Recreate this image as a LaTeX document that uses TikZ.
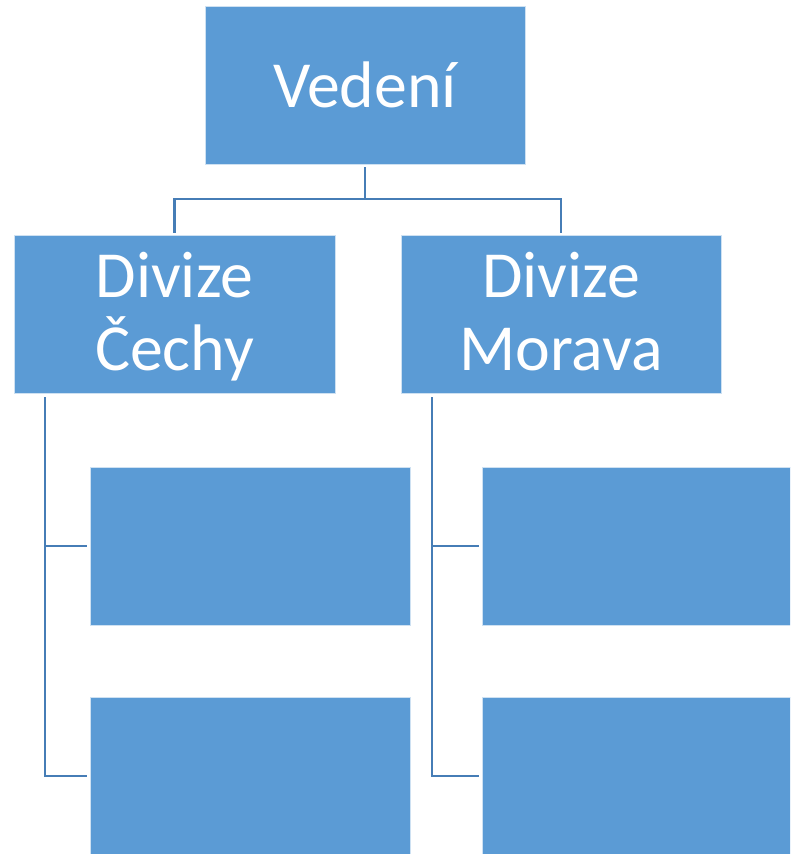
\documentclass[tikz,border=0pt]{standalone}
\usepackage{fontspec}
\setmainfont{Carlito}

\definecolor{boxblue}{RGB}{91,155,213}
\definecolor{lineblue}{RGB}{70,125,182}

\tikzset{
    unit/.style = {draw=white!70!boxblue, line width=0.4pt, fill=boxblue, inner sep=0pt,
                   minimum width=8cm, minimum height=3.95cm, text=white, align=center,
                   font=\fontsize{46.8pt}{51.7pt}\selectfont},
    division/.style = {unit, text height=89.1pt, text depth=9.4pt},
    link/.style = {lineblue, line width=1.5pt}
}

\begin{document}
\begin{tikzpicture}[x=0.025cm, y=-0.025cm]
    \clip (0,0) rectangle (790,854);
    \fill[white] (0,0) rectangle (790,854);

    \node[unit] (vedeni) at (365,85){Vedení};

    \node[division, minimum width=8.025cm] (cechy) at (174.5,314){Divize\\Čechy};
    \node[division] (morava) at (561,314){Divize\\Morava};

    \node[unit] (cechy1) at (250,546){};
    \node[unit] (cechy2) at (250,776){};
    \node[unit] (morava1) at (642,546){};
    \node[unit] (morava2) at (642,776){};

    \coordinate (cechyleg) at (45,397);
    \coordinate (moravaleg) at (432,397);

    \draw[link, shorten <=2pt] (vedeni.south) -- ++(0,35) -| ([yshift=1.5pt]cechy.north);
    \draw[link, shorten <=2pt] (vedeni.south) -- ++(0,35) -| ([yshift=1.5pt]morava.north);

    \draw[link] (cechyleg) |- ([xshift=-2pt]cechy1.west);
    \draw[link] (cechyleg) |- ([xshift=-2pt]cechy2.west);
    \draw[link] (moravaleg) |- ([xshift=-2pt]morava1.west);
    \draw[link] (moravaleg) |- ([xshift=-2pt]morava2.west);
\end{tikzpicture}
\end{document}
